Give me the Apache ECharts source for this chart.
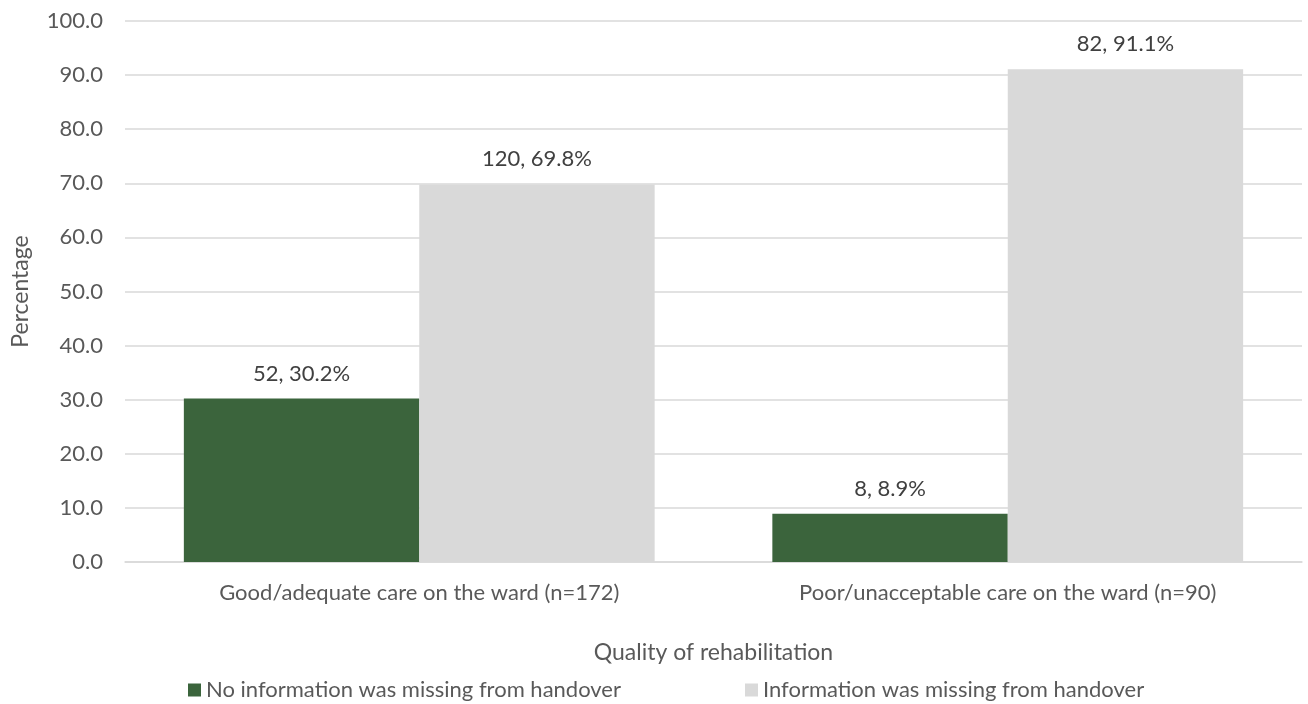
<!DOCTYPE html>
<html><head><meta charset="utf-8">
<script src="https://cdn.jsdelivr.net/npm/echarts@6/dist/echarts.min.js"></script>
<style>html,body{margin:0;padding:0;background:#fff}#c{width:1308px;height:704px}</style>
</head><body><div id="c"></div>
<script>
const categories = ['Good/adequate care on the ward (n=172)', 'Poor/unacceptable care on the ward (n=90)'];
const seriesNames = ['No information was missing from handover', 'Information was missing from handover'];
const noMissingPct = [30.2, 8.9];
const noMissingCount = [52, 8];
const missingPct = [69.8, 91.1];
const missingCount = [120, 82];
const yTicks = [0, 10, 20, 30, 40, 50, 60, 70, 80, 90, 100];

const FONT = 'Lato, "Open Sans", sans-serif';
const TXT = '#595959';
function mk(name, pct, cnt, color) {
  return {
    name, type: 'bar', data: pct, barGap: '0%', barCategoryGap: '20%',
    itemStyle: { color },
    label: { show: true, position: 'top', distance: 14, color: '#404040', fontFamily: FONT, fontSize: 22,
      formatter: p => cnt[p.dataIndex] + ', ' + pct[p.dataIndex].toFixed(1) + '%' }
  };
}
const chart = echarts.init(document.getElementById('c'));
chart.setOption({
  animation: false,
  grid: { left: 125, right: 6, top: 21, bottom: 142, outerBoundsMode: 'none', containLabel: false },
  legend: {
    top: 679, left: 188, itemWidth: 13, itemHeight: 13, itemGap: 124, itemStyle: { borderWidth: 0 }, icon: 'rect',
    padding: 0,
    textStyle: { color: TXT, fontFamily: FONT, fontSize: 22 }
  },
  xAxis: {
    type: 'category', data: categories,
    name: 'Quality of rehabilitation', nameLocation: 'middle', nameGap: 79,
    nameTextStyle: { color: TXT, fontFamily: FONT, fontSize: 23 },
    axisLine: { lineStyle: { color: '#d9d9d9', width: 1.5 } }, axisTick: { show: false },
    axisLabel: { color: TXT, fontFamily: FONT, fontSize: 22, margin: 20 }
  },
  yAxis: {
    type: 'value', min: 0, max: 100, interval: 10,
    name: 'Percentage', nameLocation: 'middle', nameGap: 93,
    nameTextStyle: { color: TXT, fontFamily: FONT, fontSize: 23 },
    axisLabel: { color: TXT, fontFamily: FONT, fontSize: 22, margin: 22, formatter: v => yTicks.includes(v) ? v.toFixed(1) : '' },
    splitLine: { lineStyle: { color: '#d9d9d9', width: 1.5 } },
    axisLine: { show: false }, axisTick: { show: false }
  },
  series: [
    mk(seriesNames[0], noMissingPct, noMissingCount, '#3b643c'),
    mk(seriesNames[1], missingPct, missingCount, '#d9d9d9')
  ]
});
</script></body></html>
